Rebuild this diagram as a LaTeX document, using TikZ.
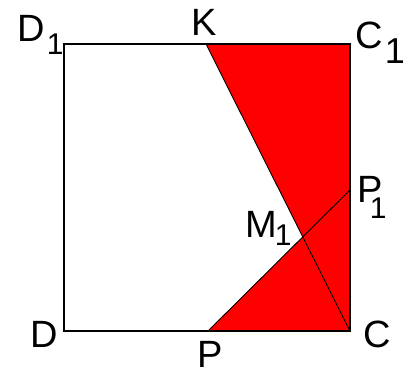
\documentclass[tikz,border=0pt]{standalone}
\usepackage{fontspec}
\setmainfont{Liberation Sans}
\newcommand{\biglab}[4]{\fontsize{38}{38}\selectfont #1\hspace{#2pt}\raisebox{-#3pt}{\fontsize{#4}{#4}\selectfont 1}}
\begin{document}
\begin{tikzpicture}[x=1pt,y=-1pt,
  lab/.style={anchor=base west,inner sep=0pt,font=\fontsize{38}{38}\selectfont},
  edge/.style={draw=black,line width=1.2pt},
  thin/.style={draw=black,line width=0.9pt}]
\useasboundingbox (0,0) rectangle (414,371);
\coordinate (D1) at (64,44);
\coordinate (C1) at (350,44);
\coordinate (C) at (350,331);
\coordinate (D) at (64,331);
\coordinate (K) at (206,44);
\coordinate (P) at (208,331);
\coordinate (P1) at (350,190);
\coordinate (M1) at (intersection of K--C and P--P1);
\fill[red] (K) -- (C1) -- (C) -- cycle;
\fill[red] (P) -- (C) -- (M1) -- cycle;
\draw[thin] (K) -- (C);
\draw[thin] (P) -- (P1);
\draw[edge] (D1) -- (C1) -- (C) -- (D) -- cycle;
\node[lab] (lD1) at (17,42) {\biglab{D}{2.3}{13}{30}};
\node[lab] (lK) at (191,36) {K};
\node[lab] (lC1) at (355,49) {\biglab{C}{2.3}{15}{36}};
\node[lab] (lP1) at (357,202) {\biglab{P}{-12.6}{16}{30}};
\node[lab] (lM1) at (245,237) {\biglab{M}{-2}{8}{30}};
\node[lab] (lD) at (30,347) {D};
\node[lab] (lP) at (197,367) {P};
\node[lab] (lC) at (363,347) {C};
\end{tikzpicture}
\end{document}
